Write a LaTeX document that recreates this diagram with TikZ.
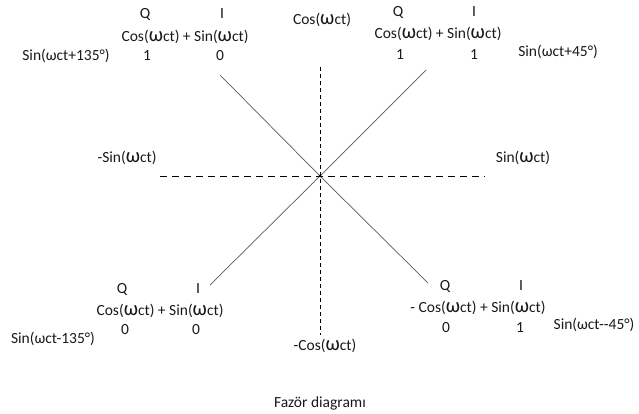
\documentclass[tikz,border=0pt]{standalone}
\usepackage{fontspec}
\setmainfont{Carlito}
\usetikzlibrary{positioning}
\newcommand{\bigw}{{\fontsize{20.5}{20.5}\selectfont ω}}
\newcommand{\wct}{(\bigw ct)}

\begin{document}
\begin{tikzpicture}[x=1pt,y=-1pt,
    lbl/.style={font=\fontsize{15.5}{17}\selectfont,text=black!90,inner sep=0pt,anchor=center},
    axisline/.style={draw=black,line width=0.8pt},
    phasor/.style={draw=black!65,line width=0.7pt}]
  \useasboundingbox (0,0) rectangle (639,414);

  % axes
  \coordinate (o) at (320,176);
  \coordinate (top) at (320,67);
  \coordinate (bot) at (320,335);
  \coordinate (lft) at (160,176);
  \coordinate (rgt) at (485,176);
  \draw[axisline,dash pattern=on 4pt off 3pt] (top) -- (bot);
  \draw[axisline,dash pattern=on 7pt off 5pt] (lft) -- (rgt);

  % phasors
  \coordinate (pne) at (426,70);
  \coordinate (pnw) at (220,75);
  \coordinate (psw) at (210,285);
  \coordinate (pse) at (428,283);
  \draw[phasor] (o) -- (pne);
  \draw[phasor] (o) -- (pnw);
  \draw[phasor] (o) -- (psw);
  \draw[phasor] (o) -- (pse);
  \fill (o) circle (1.5);

  % axis labels
  \node[lbl] (cosp) at (322,20) {Cos\wct};
  \node[lbl] (cosm) at (325,346) {-Cos\wct};
  \node[lbl] (sinm) at (127,158) {-Sin\wct};
  \node[lbl] (sinp) at (523,158) {Sin\wct};

  % upper left
  \node[lbl] (nwQ) at (145,14) {Q};
  \node[lbl] (nwI) at (222,14) {I};
  \node[lbl] (nwEq) at (185,37) {Cos\wct{} + Sin\wct};
  \node[lbl] (nwq) at (147,56) {1};
  \node[lbl] (nwi) at (220,56) {0};
  \node[lbl] (nwS) at (66,56) {Sin(ωct+135°)};

  % upper right
  \node[lbl] (neQ) at (398,12) {Q};
  \node[lbl] (neI) at (474,12) {I};
  \node[lbl] (neEq) at (438,34) {Cos\wct{} + Sin\wct};
  \node[lbl] (neq) at (400,55) {1};
  \node[lbl] (nei) at (474,55) {1};
  \node[lbl] (neS) at (558,52) {Sin(ωct+45°)};

  % lower left
  \node[lbl] (swQ) at (122,289) {Q};
  \node[lbl] (swI) at (198,289) {I};
  \node[lbl] (swEq) at (160,311) {Cos\wct{} + Sin\wct};
  \node[lbl] (swq) at (125,330) {0};
  \node[lbl] (swi) at (196,330) {0};
  \node[lbl] (swS) at (53,339) {Sin(ωct-135°)};

  % lower right
  \node[lbl] (seQ) at (445,286) {Q};
  \node[lbl] (seI) at (521,286) {I};
  \node[lbl] (seEq) at (478,308) {- Cos\wct{} + Sin\wct};
  \node[lbl] (seq) at (446,328) {0};
  \node[lbl] (sei) at (520,328) {1};
  \node[lbl] (seS) at (594,325) {Sin(ωct-{}-45°)};

  \node[lbl] (cap) at (320,403) {Fazör diagramı};
\end{tikzpicture}
\end{document}
